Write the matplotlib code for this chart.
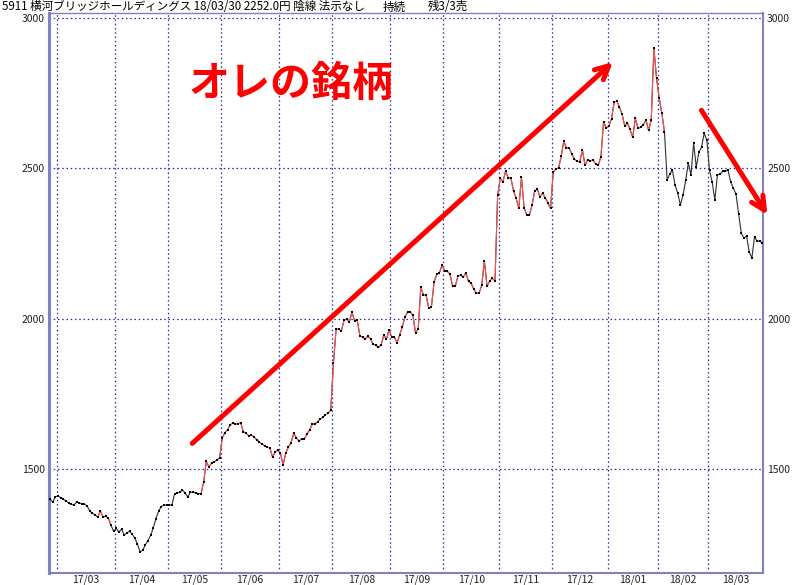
import numpy as np
import matplotlib
matplotlib.use('Agg')
from matplotlib import pyplot as plt

# 終値 (17/02/24 ~ 18/03/30, 営業日ごと)
close = [
    1400, 1390, 1407, 1410, 1405, 1400, 1393, 1388, 1383, 1380,
    1390, 1387, 1385, 1383, 1377, 1360, 1353, 1347, 1340, 1360,
    1340, 1343, 1337, 1313, 1293, 1303, 1290, 1300, 1280, 1287,
    1293, 1283, 1270, 1250, 1224, 1230, 1248, 1262, 1280, 1305,
    1335, 1360, 1375, 1380, 1380, 1380, 1380, 1417, 1420, 1423,
    1430, 1420, 1407, 1423, 1423, 1420, 1418, 1417, 1457, 1526,
    1506, 1520, 1523, 1530, 1536, 1603, 1620, 1630, 1646, 1653,
    1650, 1650, 1653, 1623, 1620, 1610, 1613, 1607, 1597, 1590,
    1583, 1577, 1573, 1570, 1540, 1557, 1563, 1553, 1513, 1553,
    1573, 1587, 1620, 1603, 1593, 1600, 1600, 1617, 1630, 1650,
    1650, 1657, 1666, 1672, 1680, 1686, 1696, 1851, 1965, 1965,
    1959, 1995, 1999, 1989, 2022, 1992, 1995, 1942, 1939, 1932,
    1942, 1932, 1915, 1912, 1905, 1912, 1945, 1932, 1962, 1939,
    1939, 1919, 1945, 1972, 2005, 2022, 2022, 2012, 1952, 1965,
    2105, 2078, 2078, 2035, 2039, 2122, 2148, 2152, 2178, 2158,
    2158, 2148, 2108, 2108, 2142, 2145, 2138, 2152, 2125, 2118,
    2098, 2085, 2085, 2112, 2192, 2108, 2125, 2135, 2125, 2411,
    2468, 2455, 2491, 2468, 2468, 2425, 2401, 2368, 2471, 2368,
    2345, 2345, 2378, 2425, 2431, 2405, 2418, 2401, 2385, 2368,
    2488, 2498, 2501, 2540, 2591, 2567, 2568, 2548, 2531, 2524,
    2522, 2562, 2510, 2528, 2525, 2528, 2515, 2511, 2538, 2655,
    2634, 2641, 2665, 2721, 2724, 2704, 2680, 2640, 2651, 2630,
    2603, 2667, 2633, 2638, 2644, 2661, 2627, 2661, 2900, 2800,
    2734, 2684, 2621, 2461, 2481, 2494, 2444, 2418, 2378, 2411,
    2461, 2518, 2478, 2584, 2504, 2554, 2571, 2617, 2594, 2494,
    2455, 2395, 2478, 2481, 2491, 2491, 2494, 2455, 2434, 2415,
    2348, 2285, 2268, 2275, 2222, 2202, 2272, 2258, 2258, 2252,
]
# 赤線で描く区間 (開始index, 終了index)
red_spans = [(18, 20), (22, 23), (57, 232)]
# 各月の最初の営業日 index
month_start = [3, 25, 45, 65, 87, 107, 129, 149, 170, 190, 211, 230, 249, 270]
month_labels = ['17/03', '17/04', '17/05', '17/06', '17/07', '17/08', '17/09',
                '17/10', '17/11', '17/12', '18/01', '18/02', '18/03']
y_ticks = [1500, 2000, 2500, 3000]

plt.rcParams['font.family'] = ['Noto Sans CJK JP', 'DejaVu Sans']

fig = plt.figure(figsize=(8, 5.85), dpi=100)
ax = fig.add_axes([49/800, 12/585, 714/800, 560/585])

x = np.arange(len(close))
y = np.array(close)

# 黒線 + 赤線
ax.plot(x, y, color='#303030', lw=0.8, zorder=3)
for a, b in red_spans:
    ax.plot(x[a:b+1], y[a:b+1], color='#ff5050', lw=0.8, zorder=4)
ax.plot(x, y, ls='none', marker='s', ms=1.7, mew=0, color='black', zorder=5)

ax.set_xlim(-0.4, 269.2)
ax.set_ylim(1154, 3017)

# グリッド
grid_kw = dict(color='#2828a8', lw=0.9, ls=(0, (1.2, 2.2)), zorder=1)
for m in month_start[:-1]:
    ax.axvline(m - 0.5, **grid_kw)
for v in y_ticks:
    ax.axhline(v, **grid_kw)

mids = [(month_start[k] + month_start[k+1] - 1) / 2 for k in range(len(month_labels))]
ax.set_xticks(mids)
ax.set_xticklabels(month_labels)
ax.set_yticks(y_ticks)
ax.tick_params(axis='x', length=0, pad=1, labelsize=7.5, labelcolor='#222222')
ax.tick_params(axis='y', length=0, pad=3, labelsize=7.5, labelcolor='#222222',
               labelright=True)

for side, w in [('left', 2.2), ('bottom', 1.5), ('right', 1.5), ('top', 1.0)]:
    ax.spines[side].set_color('#8080c4')
    ax.spines[side].set_linewidth(w)

# ヘッダ
fig.text(2/800, 1 - 7/585, '5911 横河ブリッジホールディングス 18/03/30 2252.0円 陰線 法示なし',
         fontsize=8.3, va='center', ha='left')
fig.text(383/800, 1 - 7/585, '持続', fontsize=8.3, va='center', ha='left')
fig.text(428/800, 1 - 7/585, '残3/3売', fontsize=8.3, va='center', ha='left')

# 書き込み
ax.text(91, 2780, 'オレの銘柄', color='#ff0000', fontsize=29.5, fontweight='bold',
        ha='center', va='center', zorder=6)
arrow_kw = dict(arrowstyle='->', color='#ff0000', lw=3.6, mutation_scale=24)
ax.annotate('', xy=(213.3, 2860), xytext=(52.9, 1579), arrowprops=arrow_kw,
            annotation_clip=False, zorder=6)
ax.annotate('', xy=(271.4, 2338), xytext=(245.4, 2701), arrowprops=arrow_kw,
            annotation_clip=False, zorder=6)

fig.savefig('out.png', dpi=100)
